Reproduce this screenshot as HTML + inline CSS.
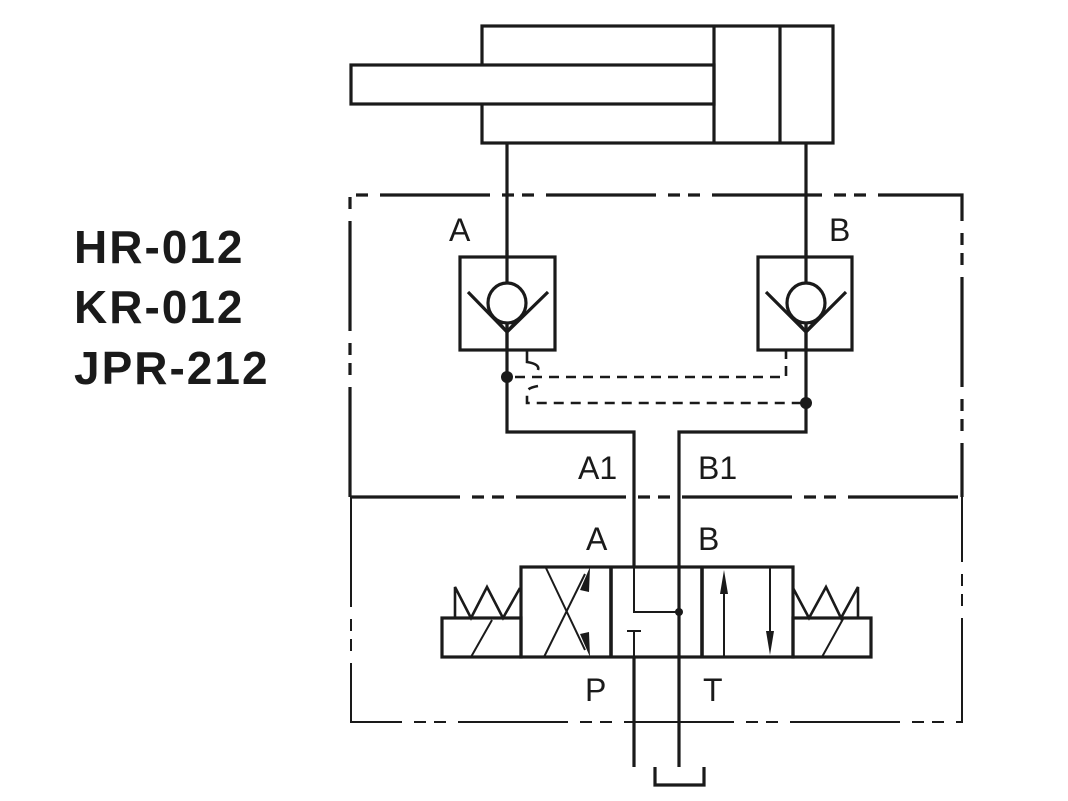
<!DOCTYPE html>
<html><head><meta charset="utf-8"><style>
html,body{margin:0;padding:0;background:#fff;width:1068px;height:801px;overflow:hidden}
svg{position:absolute;left:0;top:0}
text{font-family:"Liberation Sans",Arial,sans-serif;fill:#1a1a1a}
</style></head><body>
<svg width="1068" height="801" viewBox="0 0 1068 801" xmlns="http://www.w3.org/2000/svg">
<g fill="none" stroke="#1a1a1a" stroke-width="3.2" stroke-linejoin="miter">
<rect x="482" y="26" width="351" height="117"/>
<rect x="351" y="65" width="363" height="39" fill="#fff"/>
<line x1="714" y1="26" x2="714" y2="143"/>
<line x1="780" y1="26" x2="780" y2="143"/>
<path d="M350 497 L350 195 L962 195 L962 497" stroke-dasharray="110 12 12 8 12 12"/>
<line x1="350" y1="497" x2="962" y2="497" stroke-dasharray="110 12 12 8 12 12"/>
<path d="M351 497 L351 722 L962 722 L962 497" stroke-width="2" stroke-dasharray="110 12 12 8 12 12"/>
<path d="M507 143 V432 H634 V567"/>
<path d="M806 143 V432 H679 V767"/>
<path d="M634 657 V767"/>
<rect x="460" y="257" width="95" height="93" fill="#fff"/>
<rect x="758" y="257" width="94" height="93" fill="#fff"/>
<line x1="507" y1="250" x2="507" y2="350"/>
<line x1="806" y1="250" x2="806" y2="350"/>
<ellipse cx="507" cy="303" rx="19" ry="20" fill="#fff"/>
<ellipse cx="806" cy="303" rx="19" ry="20" fill="#fff"/>
<path d="M468 292 L507 332 L548 292"/>
<path d="M766 292 L806 332 L846 292"/>
<path d="M500 323 L514 323 L507 331 Z" stroke-width="2"/>
<path d="M799 323 L813 323 L806 331 Z" stroke-width="2"/>
<line x1="507" y1="322" x2="507" y2="350"/>
<line x1="806" y1="322" x2="806" y2="350"/>
<g stroke-width="2.6">
<path d="M527 350 V362 Q540 364 538 370"/>
<path d="M515 377 H786 V350" stroke-dasharray="10 7"/>
<path d="M538 386 Q527 388 527 392 V403 H806" stroke-dasharray="10 7"/>
</g>
<rect x="521" y="567" width="272" height="90"/>
<line x1="611" y1="567" x2="611" y2="657" stroke-width="3.6"/>
<line x1="702" y1="567" x2="702" y2="657" stroke-width="3.6"/>
<rect x="442" y="618" width="79" height="39"/>
<rect x="793" y="618" width="78" height="39"/>
<path d="M455 618 V587 L471 618 L487 587 L503 618 L520 588" stroke-width="2.6"/>
<path d="M793 588 L809 618 L826 587 L841 618 L858 587 V618" stroke-width="2.6"/>
<line x1="471" y1="657" x2="492" y2="620" stroke-width="2"/>
<line x1="822" y1="657" x2="843" y2="619" stroke-width="2"/>
<g stroke-width="2">
<line x1="544" y1="657" x2="585" y2="574"/>
<line x1="546" y1="568" x2="585" y2="650"/>
<line x1="724" y1="657" x2="724" y2="578"/>
<line x1="770" y1="567" x2="770" y2="646"/>
<path d="M634 567 V612 H679"/>
<line x1="627" y1="631" x2="641" y2="631"/>
<line x1="634" y1="631" x2="634" y2="657"/>
</g>
<path d="M655 767 V785 H704 V767"/>
</g>
<g fill="#1a1a1a" stroke="none">
<circle cx="507" cy="377" r="6"/>
<circle cx="806" cy="403" r="6"/>
<circle cx="679" cy="612" r="4"/>
<path d="M590 567 L580 590 L589 592 Z"/>
<path d="M590 657 L580 634 L589 632 Z"/>
<path d="M724 570 L720 594 L728 594 Z"/>
<path d="M770 655 L766 631 L774 631 Z"/>
</g>
<g font-size="32">
<text x="449" y="241">A</text>
<text x="829" y="241">B</text>
<text x="578" y="479">A1</text>
<text x="698" y="479">B1</text>
<text x="586" y="550">A</text>
<text x="698" y="550">B</text>
<text x="585" y="701">P</text>
<text x="703" y="701">T</text>
</g>
<g font-size="46" font-weight="bold" letter-spacing="2">
<text x="74" y="263">HR-012</text>
<text x="74" y="323">KR-012</text>
<text x="74" y="384">JPR-212</text>
</g>
</svg>
</body></html>
